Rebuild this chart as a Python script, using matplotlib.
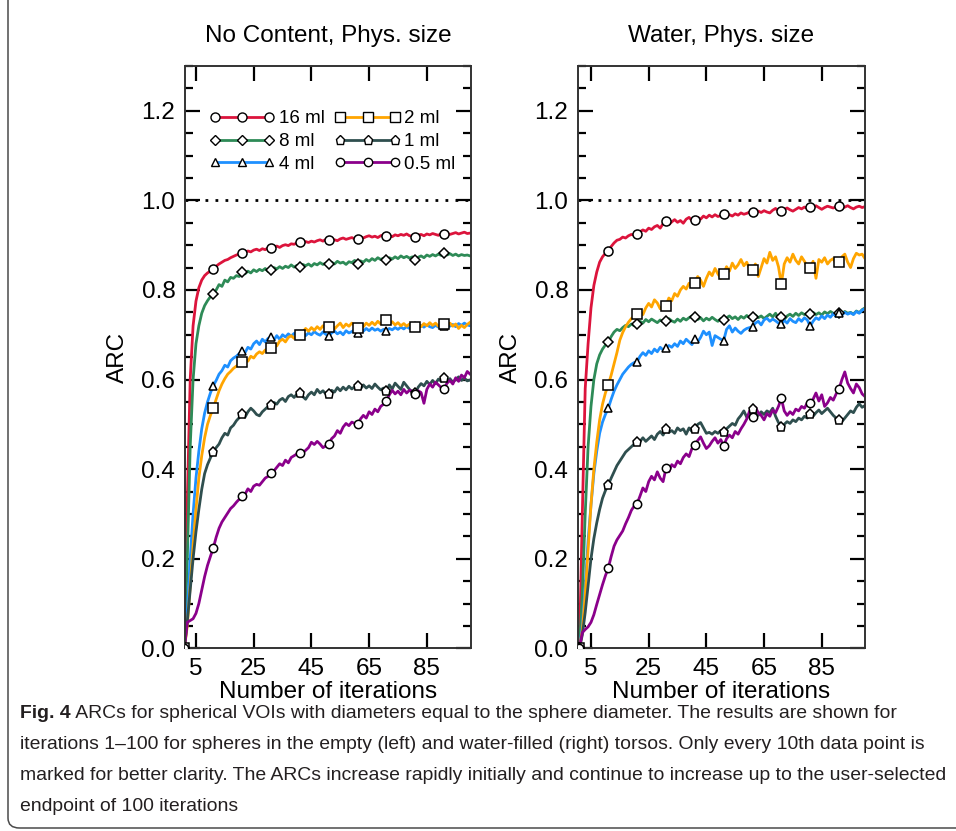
import matplotlib
matplotlib.use("Agg")
import matplotlib.pyplot as plt
import numpy as np
from matplotlib.lines import Line2D
from matplotlib.patches import FancyBboxPatch
from matplotlib.ticker import MultipleLocator

plt.rcParams["font.family"] = ["Liberation Sans", "DejaVu Sans"]

iterations = list(range(1, 101))
volumes = ["16 ml", "8 ml", "4 ml", "2 ml", "1 ml", "0.5 ml"]
panel_titles = ["No Content, Phys. size", "Water, Phys. size"]
x_ticks = [5, 25, 45, 65, 85]
y_ticks = [0.0, 0.2, 0.4, 0.6, 0.8, 1.0, 1.2]

# ---- empty torso (left) ----
left_16ml = [
    0.000, 0.330, 0.600, 0.720, 0.775, 0.805, 0.822, 0.832, 0.838, 0.842,
    0.846, 0.853, 0.858, 0.862, 0.866, 0.868, 0.872, 0.875, 0.878, 0.880,
    0.883, 0.884, 0.887, 0.885, 0.889, 0.891, 0.888, 0.892, 0.890, 0.894,
    0.893, 0.896, 0.898, 0.895, 0.899, 0.901, 0.899, 0.903, 0.902, 0.905,
    0.907, 0.904, 0.908, 0.906, 0.909, 0.907, 0.910, 0.912, 0.909, 0.913,
    0.911, 0.914, 0.912, 0.910, 0.914, 0.916, 0.913, 0.915, 0.917, 0.914,
    0.914, 0.918, 0.916, 0.919, 0.921, 0.918, 0.920, 0.917, 0.921, 0.923,
    0.920, 0.922, 0.919, 0.923, 0.921, 0.924, 0.922, 0.925, 0.921, 0.920,
    0.919, 0.922, 0.924, 0.921, 0.925, 0.923, 0.926, 0.924, 0.922, 0.926,
    0.925, 0.927, 0.924, 0.926, 0.928, 0.925, 0.927, 0.929, 0.926, 0.927,
]
left_8ml = [
    0.000, 0.200, 0.450, 0.600, 0.680, 0.720, 0.748, 0.765, 0.776, 0.785,
    0.790, 0.800, 0.812, 0.808, 0.822, 0.818, 0.828, 0.826, 0.832, 0.830,
    0.840, 0.836, 0.842, 0.838, 0.845, 0.841, 0.846, 0.843, 0.848, 0.841,
    0.844, 0.850, 0.847, 0.852, 0.848, 0.853, 0.850, 0.856, 0.851, 0.855,
    0.852, 0.857, 0.854, 0.858, 0.853, 0.859, 0.856, 0.861, 0.857, 0.860,
    0.859, 0.862, 0.858, 0.864, 0.860, 0.862, 0.857, 0.863, 0.861, 0.866,
    0.859, 0.865, 0.862, 0.868, 0.864, 0.870, 0.866, 0.872, 0.868, 0.871,
    0.868, 0.872, 0.869, 0.874, 0.870, 0.876, 0.872, 0.875, 0.871, 0.874,
    0.868, 0.873, 0.876, 0.872, 0.878, 0.875, 0.879, 0.876, 0.880, 0.877,
    0.882, 0.878, 0.881, 0.877, 0.880, 0.876, 0.879, 0.877, 0.878, 0.876,
]
left_4ml = [
    0.000, 0.080, 0.200, 0.300, 0.380, 0.440, 0.490, 0.525, 0.550, 0.570,
    0.586, 0.598, 0.612, 0.620, 0.632, 0.628, 0.642, 0.648, 0.652, 0.658,
    0.664, 0.660, 0.672, 0.668, 0.680, 0.686, 0.678, 0.690, 0.684, 0.692,
    0.694, 0.688, 0.698, 0.690, 0.700, 0.695, 0.702, 0.697, 0.703, 0.699,
    0.700, 0.705, 0.698, 0.704, 0.700, 0.707, 0.702, 0.699, 0.706, 0.701,
    0.697, 0.704, 0.708, 0.702, 0.706, 0.700, 0.709, 0.704, 0.707, 0.711,
    0.705, 0.712, 0.708, 0.714, 0.709, 0.715, 0.710, 0.713, 0.708, 0.712,
    0.709, 0.714, 0.711, 0.716, 0.712, 0.717, 0.713, 0.718, 0.714, 0.719,
    0.720, 0.716, 0.721, 0.717, 0.722, 0.718, 0.716, 0.721, 0.717, 0.722,
    0.720, 0.724, 0.719, 0.723, 0.718, 0.725, 0.721, 0.726, 0.722, 0.720,
]
left_2ml = [
    0.000, 0.050, 0.140, 0.230, 0.310, 0.380, 0.430, 0.470, 0.500, 0.520,
    0.536, 0.556, 0.575, 0.590, 0.602, 0.612, 0.618, 0.625, 0.630, 0.634,
    0.639, 0.646, 0.641, 0.652, 0.648, 0.657, 0.662, 0.658, 0.666, 0.668,
    0.671, 0.680, 0.675, 0.686, 0.690, 0.684, 0.694, 0.698, 0.692, 0.700,
    0.699, 0.706, 0.714, 0.708, 0.716, 0.710, 0.718, 0.712, 0.720, 0.714,
    0.717, 0.722, 0.713, 0.720, 0.726, 0.716, 0.724, 0.719, 0.726, 0.721,
    0.716, 0.723, 0.718, 0.726, 0.721, 0.728, 0.722, 0.730, 0.724, 0.731,
    0.733, 0.726, 0.729, 0.722, 0.727, 0.720, 0.725, 0.719, 0.724, 0.718,
    0.717, 0.722, 0.718, 0.725, 0.720, 0.727, 0.721, 0.726, 0.719, 0.724,
    0.725, 0.720, 0.726, 0.719, 0.724, 0.714, 0.721, 0.716, 0.723, 0.728,
]
left_1ml = [
    0.000, 0.060, 0.130, 0.200, 0.260, 0.310, 0.355, 0.390, 0.410, 0.425,
    0.439, 0.448, 0.456, 0.470, 0.480, 0.476, 0.492, 0.498, 0.508, 0.515,
    0.522, 0.516, 0.528, 0.536, 0.530, 0.522, 0.519, 0.528, 0.534, 0.540,
    0.543, 0.549, 0.545, 0.554, 0.558, 0.551, 0.562, 0.566, 0.560, 0.568,
    0.569, 0.562, 0.556, 0.566, 0.572, 0.566, 0.578, 0.570, 0.575, 0.568,
    0.568, 0.576, 0.572, 0.582, 0.575, 0.583, 0.577, 0.585, 0.579, 0.584,
    0.585, 0.579, 0.588, 0.581, 0.586, 0.580, 0.590, 0.583, 0.577, 0.581,
    0.575, 0.588, 0.579, 0.592, 0.585, 0.578, 0.594, 0.586, 0.578, 0.572,
    0.569, 0.583, 0.591, 0.586, 0.596, 0.589, 0.598, 0.591, 0.601, 0.596,
    0.604, 0.596, 0.602, 0.594, 0.600, 0.606, 0.598, 0.603, 0.597, 0.599,
]
left_05ml = [
    0.000, 0.058, 0.062, 0.066, 0.078, 0.100, 0.130, 0.160, 0.185, 0.205,
    0.224, 0.248, 0.268, 0.282, 0.292, 0.302, 0.312, 0.318, 0.326, 0.333,
    0.340, 0.344, 0.356, 0.350, 0.362, 0.366, 0.364, 0.372, 0.380, 0.384,
    0.391, 0.396, 0.404, 0.412, 0.408, 0.420, 0.414, 0.426, 0.430, 0.434,
    0.437, 0.436, 0.442, 0.448, 0.460, 0.455, 0.462, 0.456, 0.448, 0.452,
    0.455, 0.468, 0.474, 0.486, 0.480, 0.494, 0.502, 0.497, 0.505, 0.502,
    0.500, 0.512, 0.520, 0.514, 0.528, 0.522, 0.534, 0.528, 0.540, 0.545,
    0.553, 0.566, 0.576, 0.568, 0.574, 0.566, 0.578, 0.570, 0.576, 0.574,
    0.567, 0.575, 0.571, 0.547, 0.578, 0.590, 0.583, 0.594, 0.588, 0.582,
    0.580, 0.592, 0.598, 0.590, 0.604, 0.596, 0.610, 0.604, 0.618, 0.612,
]

# ---- water-filled torso (right) ----
right_16ml = [
    0.000, 0.300, 0.580, 0.680, 0.760, 0.810, 0.840, 0.862, 0.874, 0.882,
    0.888, 0.897, 0.905, 0.911, 0.913, 0.918, 0.916, 0.921, 0.924, 0.922,
    0.926, 0.930, 0.934, 0.931, 0.938, 0.935, 0.941, 0.944, 0.938, 0.948,
    0.953, 0.946, 0.952, 0.957, 0.951, 0.955, 0.949, 0.958, 0.962, 0.955,
    0.957, 0.962, 0.958, 0.965, 0.961, 0.967, 0.963, 0.968, 0.964, 0.966,
    0.969, 0.966, 0.968, 0.965, 0.970, 0.967, 0.972, 0.969, 0.971, 0.974,
    0.975, 0.972, 0.976, 0.973, 0.977, 0.974, 0.972, 0.978, 0.982, 0.976,
    0.977, 0.980, 0.983, 0.979, 0.976, 0.980, 0.984, 0.981, 0.985, 0.982,
    0.986, 0.983, 0.988, 0.984, 0.980, 0.984, 0.987, 0.985, 0.983, 0.986,
    0.987, 0.982, 0.985, 0.988, 0.984, 0.981, 0.985, 0.987, 0.984, 0.986,
]
right_8ml = [
    0.000, 0.120, 0.300, 0.450, 0.540, 0.600, 0.635, 0.655, 0.668, 0.677,
    0.684, 0.696, 0.706, 0.712, 0.709, 0.716, 0.721, 0.718, 0.724, 0.720,
    0.723, 0.730, 0.726, 0.734, 0.729, 0.735, 0.731, 0.727, 0.733, 0.729,
    0.730, 0.736, 0.731, 0.728, 0.735, 0.730, 0.737, 0.733, 0.738, 0.742,
    0.740, 0.734, 0.738, 0.731, 0.737, 0.733, 0.739, 0.734, 0.730, 0.736,
    0.733, 0.738, 0.742, 0.736, 0.740, 0.734, 0.741, 0.737, 0.743, 0.738,
    0.739, 0.744, 0.738, 0.742, 0.736, 0.741, 0.746, 0.740, 0.748, 0.737,
    0.739, 0.734, 0.742, 0.746, 0.741, 0.748, 0.743, 0.749, 0.745, 0.748,
    0.746, 0.750, 0.745, 0.749, 0.744, 0.751, 0.747, 0.752, 0.748, 0.745,
    0.749, 0.746, 0.752, 0.748, 0.750, 0.746, 0.753, 0.749, 0.756, 0.760,
]
right_4ml = [
    0.000, 0.050, 0.140, 0.240, 0.320, 0.390, 0.440, 0.480, 0.505, 0.522,
    0.536, 0.556, 0.574, 0.588, 0.600, 0.612, 0.620, 0.628, 0.634, 0.638,
    0.640, 0.652, 0.660, 0.654, 0.664, 0.658, 0.668, 0.662, 0.672, 0.666,
    0.670, 0.676, 0.672, 0.680, 0.674, 0.686, 0.680, 0.690, 0.684, 0.678,
    0.690, 0.684, 0.694, 0.708, 0.700, 0.706, 0.676, 0.698, 0.694, 0.690,
    0.687, 0.712, 0.720, 0.706, 0.715, 0.708, 0.703, 0.710, 0.714, 0.716,
    0.718, 0.726, 0.730, 0.722, 0.733, 0.737, 0.730, 0.735, 0.731, 0.726,
    0.724, 0.732, 0.726, 0.736, 0.730, 0.727, 0.736, 0.730, 0.738, 0.733,
    0.719, 0.730, 0.738, 0.734, 0.742, 0.736, 0.744, 0.739, 0.747, 0.741,
    0.748, 0.744, 0.750, 0.746, 0.749, 0.745, 0.752, 0.748, 0.755, 0.758,
]
right_2ml = [
    0.000, 0.040, 0.120, 0.220, 0.320, 0.400, 0.460, 0.510, 0.545, 0.570,
    0.588, 0.610, 0.635, 0.660, 0.688, 0.705, 0.718, 0.728, 0.736, 0.742,
    0.746, 0.752, 0.745, 0.760, 0.770, 0.762, 0.778, 0.771, 0.758, 0.764,
    0.765, 0.782, 0.776, 0.792, 0.786, 0.800, 0.808, 0.802, 0.815, 0.810,
    0.816, 0.830, 0.822, 0.808, 0.826, 0.840, 0.832, 0.848, 0.836, 0.826,
    0.836, 0.852, 0.842, 0.860, 0.848, 0.856, 0.868, 0.854, 0.862, 0.846,
    0.844, 0.858, 0.830, 0.850, 0.870, 0.860, 0.884, 0.866, 0.874, 0.852,
    0.813, 0.858, 0.872, 0.862, 0.880, 0.866, 0.858, 0.874, 0.864, 0.852,
    0.849, 0.864, 0.826, 0.868, 0.862, 0.872, 0.858, 0.866, 0.870, 0.858,
    0.862, 0.874, 0.880, 0.862, 0.850, 0.870, 0.882, 0.878, 0.880, 0.870,
]
right_1ml = [
    0.000, 0.030, 0.080, 0.140, 0.200, 0.245, 0.280, 0.310, 0.335, 0.352,
    0.365, 0.380, 0.394, 0.408, 0.418, 0.428, 0.438, 0.444, 0.450, 0.456,
    0.460, 0.462, 0.470, 0.462, 0.468, 0.474, 0.466, 0.478, 0.484, 0.476,
    0.489, 0.482, 0.486, 0.480, 0.492, 0.486, 0.490, 0.478, 0.492, 0.484,
    0.489, 0.500, 0.504, 0.492, 0.480, 0.482, 0.478, 0.484, 0.480, 0.486,
    0.484, 0.490, 0.496, 0.502, 0.498, 0.512, 0.520, 0.530, 0.516, 0.522,
    0.534, 0.524, 0.520, 0.528, 0.522, 0.530, 0.526, 0.536, 0.518, 0.504,
    0.495, 0.500, 0.506, 0.502, 0.510, 0.506, 0.514, 0.510, 0.518, 0.514,
    0.522, 0.518, 0.526, 0.532, 0.524, 0.530, 0.536, 0.528, 0.520, 0.514,
    0.510, 0.506, 0.514, 0.522, 0.530, 0.526, 0.538, 0.546, 0.538, 0.542,
]
right_05ml = [
    0.000, 0.035, 0.042, 0.048, 0.058, 0.075, 0.098, 0.120, 0.142, 0.162,
    0.179, 0.205, 0.228, 0.242, 0.252, 0.262, 0.278, 0.292, 0.308, 0.318,
    0.323, 0.340, 0.358, 0.350, 0.372, 0.384, 0.376, 0.394, 0.380, 0.372,
    0.402, 0.394, 0.410, 0.405, 0.418, 0.412, 0.426, 0.434, 0.428, 0.446,
    0.454, 0.464, 0.472, 0.458, 0.446, 0.452, 0.462, 0.470, 0.458, 0.466,
    0.452, 0.468, 0.476, 0.470, 0.484, 0.478, 0.490, 0.500, 0.512, 0.530,
    0.516, 0.538, 0.526, 0.520, 0.510, 0.524, 0.518, 0.532, 0.526, 0.540,
    0.558, 0.530, 0.520, 0.528, 0.522, 0.534, 0.530, 0.540, 0.536, 0.548,
    0.547, 0.556, 0.570, 0.552, 0.566, 0.540, 0.548, 0.560, 0.554, 0.568,
    0.579, 0.600, 0.617, 0.592, 0.580, 0.570, 0.590, 0.582, 0.568, 0.562,
]

left_series = [left_16ml, left_8ml, left_4ml, left_2ml, left_1ml, left_05ml]
right_series = [right_16ml, right_8ml, right_4ml, right_2ml, right_1ml, right_05ml]

COLORS = ["#DC143C", "#2E8B57", "#1E90FF", "#FFA500", "#2F4F4F", "#8B008B"]
MARKERS = ["o", "D", "^", "s", "p", "o"]
MSIZES = [6.5, 4.6, 5.2, 6.8, 6.8, 6.0]
FS = 17.5

fig = plt.figure(figsize=(9.56, 8.31), dpi=100)
W, H = 956, 831

# rounded caption frame (left and bottom edges visible)
frame = FancyBboxPatch((8 / W, 3 / H), 1.2, 1.2, boxstyle="round,pad=0,rounding_size=0.012",
                       transform=fig.transFigure, fill=False, edgecolor="#4a4a4a", linewidth=1.1,
                       clip_on=False)
fig.patches.append(frame)

ax_left = fig.add_axes([185 / W, 1 - 648.3 / H, 286 / W, 582.3 / H])
ax_right = fig.add_axes([578 / W, 1 - 648.3 / H, 287 / W, 582.3 / H])

for ax, series, title, xlim in [
    (ax_left, left_series, panel_titles[0], (1.2, 100.3)),
    (ax_right, right_series, panel_titles[1], (0.5, 100.0)),
]:
    ax.axhline(1.0, color="black", linestyle=(0, (1, 2.6)), linewidth=2, zorder=1)
    for vals, col in zip(series, COLORS):
        ax.plot(iterations, vals, color=col, linewidth=2.0, zorder=2)
    # every 10th point is marked
    for vals, mk, ms in zip(series, MARKERS, MSIZES):
        ax.plot(iterations[::10], vals[::10], linestyle="none", marker=mk, markersize=ms,
                markerfacecolor="white", markeredgecolor="black", markeredgewidth=1.1, zorder=3)

    ax.set_xlim(*xlim)
    ax.set_ylim(0, 1.3)
    ax.set_xticks(x_ticks)
    ax.set_yticks(y_ticks)
    ax.set_yticklabels([f"{v:.1f}" for v in y_ticks])
    ax.yaxis.set_minor_locator(MultipleLocator(0.05))
    ax.tick_params(which="both", direction="in", top=True, right=True, width=1.6,
                   labelsize=FS, colors="black")
    ax.tick_params(which="major", length=11, pad=7)
    ax.tick_params(which="minor", length=5.5)
    for sp in ax.spines.values():
        sp.set_linewidth(1.4)
        sp.set_color("#333333")
    ax.set_title(title, fontsize=FS, pad=17)
    ax.set_xlabel("Number of iterations", fontsize=FS, labelpad=1)
    ax.set_ylabel("ARC", fontsize=FS, labelpad=9)

handles = []
for col, mk, ms, lab in zip(COLORS, MARKERS, MSIZES, volumes):
    handles.append(Line2D([], [], color=col, linewidth=2.0, marker=mk, markersize=ms,
                          markerfacecolor="white", markeredgecolor="black",
                          markeredgewidth=1.0, label=lab))
ax_left.legend(handles=handles, ncol=2, loc="upper left", bbox_to_anchor=(0.085, 0.924),
               frameon=False, numpoints=3, handlelength=3.5, handletextpad=0.2,
               columnspacing=0.55, labelspacing=0.3, fontsize=13.5, borderpad=0,
               borderaxespad=0)

# caption
cap_lines = [
    " ARCs for spherical VOIs with diameters equal to the sphere diameter. The results are shown for",
    "iterations 1\u2013100 for spheres in the empty (left) and water-filled (right) torsos. Only every 10th data point is",
    "marked for better clarity. The ARCs increase rapidly initially and continue to increase up to the user-selected",
    "endpoint of 100 iterations",
]
cap_y = [718, 749, 780, 811]
cap_target = [920, 912, 928]
renderer = fig.canvas.get_renderer()

# size the caption so that its lines span the same width as in the print
ratios = []
probe_b = fig.text(0, 0, "Fig. 4", fontweight="bold", fontsize=15)
wb = probe_b.get_window_extent(renderer).width
probe_b.remove()
for i, (line, target) in enumerate(zip(cap_lines[:3], cap_target)):
    probe = fig.text(0, 0, line, fontsize=15)
    w = probe.get_window_extent(renderer).width + (wb if i == 0 else 0)
    probe.remove()
    ratios.append(target / w)
cap_fs = 15 * min(ratios)

cap_kw = dict(fontsize=cap_fs, color="#231f20", va="baseline")
bold = fig.text(20 / W, 1 - cap_y[0] / H, "Fig. 4", fontweight="bold", **cap_kw)
bx = bold.get_window_extent(renderer).x1
fig.text(bx / W, 1 - cap_y[0] / H, cap_lines[0], **cap_kw)
for line, yy in zip(cap_lines[1:], cap_y[1:]):
    fig.text(20 / W, 1 - yy / H, line, **cap_kw)

fig.savefig("out.png", dpi=100)
